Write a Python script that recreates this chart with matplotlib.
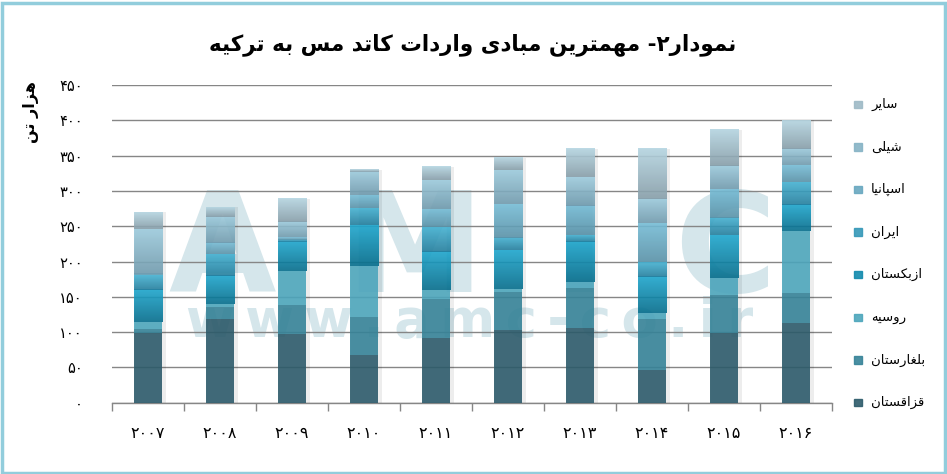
import numpy as np
import matplotlib
matplotlib.use('Agg')
import matplotlib.pyplot as plt
from matplotlib.colors import to_rgb
from matplotlib.patches import Rectangle

plt.rcParams['font.family'] = ['DejaVu Sans']

# ── data (thousand tonnes) ─────────────────────────────────────────────────
YEARS = ['۲۰۰۷', '۲۰۰۸', '۲۰۰۹', '۲۰۱۰', '۲۰۱۱', '۲۰۱۲', '۲۰۱۳', '۲۰۱۴', '۲۰۱۵', '۲۰۱۶']
SERIES_NAMES = ['قزاقستان', 'بلغارستان', 'روسیه', 'ازبکستان', 'ایران', 'اسپانیا', 'شیلی', 'سایر']
kazakhstan = [99, 119, 98, 68, 92, 103, 106, 47, 99, 113]
bulgaria   = [5, 17, 40, 54, 55, 54, 57, 71, 54, 42]
russia     = [10, 4, 48, 72, 13, 4, 8, 9, 24, 88]
uzbekistan = [46, 40, 42, 58, 54, 55, 57, 51, 60, 37]
iran       = [21, 30, 3, 24, 35, 17, 9, 21, 25, 32]
spain      = [2, 16, 3, 18, 25, 48, 42, 55, 40, 24]
chile      = [63, 37, 22, 33, 41, 48, 41, 34, 33, 24]
other      = [24, 14, 33, 3, 19, 18, 40, 72, 51, 41]
Y_TICKS = [0, 50, 100, 150, 200, 250, 300, 350, 400, 450]

TITLE = 'نمودار۲- مهمترین مبادی واردات کاتد مس به ترکیه'
Y_LABEL = 'هزار تن'

# (top colour, bottom colour) as seen on white — solid ones use the same twice
COLOURS = [
    ('#426b7a', '#426b7a'),
    ('#4a8fa2', '#4a8fa2'),
    ('#5fafc3', '#5fafc3'),
    ('#35b0d3', '#1e7c98'),
    ('#58bad7', '#3a8ba7'),
    ('#84c4db', '#6a9db1'),
    ('#a6d0e0', '#7fa5b6'),
    ('#bddae5', '#93a8b2'),
]
ALPHA = 0.9


def unblend(c, a=ALPHA):
    """Base colour that shows as `c` on white when drawn with alpha `a`."""
    return np.clip((np.array(to_rgb(c)) - (1 - a)) / a, 0, 1)


# ── minimal Persian shaping (matplotlib has no complex text layout) ─────────
FORMS = {
    'ا': ('\uFE8D', '\uFE8E', None, None),
    'ب': ('\uFE8F', '\uFE90', '\uFE91', '\uFE92'),
    'ت': ('\uFE95', '\uFE96', '\uFE97', '\uFE98'),
    'د': ('\uFEA9', '\uFEAA', None, None),
    'ر': ('\uFEAD', '\uFEAE', None, None),
    'ز': ('\uFEAF', '\uFEB0', None, None),
    'س': ('\uFEB1', '\uFEB2', '\uFEB3', '\uFEB4'),
    'ش': ('\uFEB5', '\uFEB6', '\uFEB7', '\uFEB8'),
    'غ': ('\uFECD', '\uFECE', '\uFECF', '\uFED0'),
    'ق': ('\uFED5', '\uFED6', '\uFED7', '\uFED8'),
    'ل': ('\uFEDD', '\uFEDE', '\uFEDF', '\uFEE0'),
    'م': ('\uFEE1', '\uFEE2', '\uFEE3', '\uFEE4'),
    'ن': ('\uFEE5', '\uFEE6', '\uFEE7', '\uFEE8'),
    'ه': ('\uFEE9', '\uFEEA', '\uFEEB', '\uFEEC'),
    'و': ('\uFEED', '\uFEEE', None, None),
    'پ': ('\uFB56', '\uFB57', '\uFB58', '\uFB59'),
    'ک': ('\uFB8E', '\uFB8F', '\uFB90', '\uFB91'),
    'ی': ('\uFBFC', '\uFBFD', '\uFBFE', '\uFBFF'),
}


def fa(text):
    """Pick contextual glyph forms, then reverse for left-to-right drawing."""
    out = []
    for i, ch in enumerate(text):
        if ch not in FORMS:
            out.append(ch)
            continue
        prev = text[i - 1] if i > 0 else ''
        nxt = text[i + 1] if i < len(text) - 1 else ''
        j_prev = prev in FORMS and FORMS[prev][2] is not None
        j_next = nxt in FORMS and FORMS[ch][2] is not None
        iso, fin, ini, med = FORMS[ch]
        if j_prev and j_next:
            out.append(med)
        elif j_prev:
            out.append(fin)
        elif j_next:
            out.append(ini)
        else:
            out.append(iso)
    return ''.join(reversed(out))


def fa_digits(n):
    return ''.join('۰۱۲۳۴۵۶۷۸۹'[int(d)] for d in str(n))


W, H = 947, 474
fig = plt.figure(figsize=(W / 100, H / 100), dpi=100)

# watermark, drawn before the axes
WM_COL = '#d5e6eb'
fig.text(473 / W, 1 - 292 / H, '\u2002'.join('AMIC'), ha='center', va='baseline',
         fontsize=100, fontweight='bold', color=WM_COL, zorder=-1)
fig.text(470 / W, 1 - 337 / H, '\u2009'.join('www.amc-co.ir'), ha='center', va='baseline',
         fontsize=38, fontweight='bold', color=WM_COL, zorder=-1)

ax = fig.add_axes([112 / W, 71.3 / H, 720 / W, 317.7 / H])
ax.patch.set_alpha(0)

data = [kazakhstan, bulgaria, russia, uzbekistan, iran, spain, chile, other]
x = np.arange(len(YEARS))
width = 0.40
bottom = np.zeros(len(YEARS))

# soft shadow behind the stacks
totals = np.sum(data, axis=0)
ax.bar(x + 0.035, totals + 1.5, width=width + 0.03, bottom=-1.5,
       color='black', alpha=0.07, zorder=2, linewidth=0)

for vals, (c_top, c_bot) in zip(data, COLOURS):
    bars = ax.bar(x, vals, width=width, bottom=bottom, color=unblend(c_bot),
                  alpha=ALPHA, linewidth=0, zorder=3)
    if c_top != c_bot:
        t = np.linspace(0, 1, 64)[:, None, None]
        img = unblend(c_top) * (1 - t) + unblend(c_bot) * t
        for p in bars:
            p.set_facecolor('none')
            ax.imshow(img, extent=(p.get_x(), p.get_x() + p.get_width(),
                                   p.get_y(), p.get_y() + p.get_height()),
                      origin='upper', aspect='auto', alpha=ALPHA,
                      interpolation='bilinear', zorder=3)
    bottom += np.array(vals)

ax.set_xlim(-0.5, len(YEARS) - 0.5)
ax.set_ylim(0, 450)
ax.set_yticks(Y_TICKS)
ax.set_yticklabels([fa_digits(v) for v in Y_TICKS], fontsize=10.5)
ax.yaxis.grid(True, color='#868686', lw=1.0, zorder=1)
ax.set_axisbelow(True)
ax.tick_params(axis='y', length=0, pad=21)

ax.set_xticks(x)
ax.set_xticklabels(YEARS, fontsize=11.5)
ax.set_xticks(np.arange(-0.5, len(YEARS)), minor=True)
ax.tick_params(axis='x', which='major', length=0, pad=17)
ax.tick_params(axis='x', which='minor', length=6, color='#868686', width=1.0)

for s in ['top', 'right', 'left']:
    ax.spines[s].set_visible(False)
ax.spines['bottom'].set_color('#868686')
ax.spines['bottom'].set_linewidth(1.0)

fig.text(0.499, 0.905, fa(TITLE), ha='center', va='center',
         fontsize=15.5, fontweight='bold')
fig.text(31 / W, 1 - 112 / H, fa(Y_LABEL), ha='center', va='center',
         rotation=90, fontsize=11.5, fontweight='bold')

# legend, top series first
for i, k in enumerate(range(len(SERIES_NAMES) - 1, -1, -1)):
    yc = 1 - (104.5 + i * 42.6) / H
    c_top, c_bot = COLOURS[k]
    mid = (unblend(c_top) + unblend(c_bot)) / 2
    fig.patches.append(Rectangle((854 / W, yc - 3.5 / H), 7.5 / W, 7.5 / H,
                                 transform=fig.transFigure, color=mid, alpha=ALPHA))
    fig.text(871 / W, yc, fa(SERIES_NAMES[k]), ha='left', va='center', fontsize=9.5)

# light blue frame round the chart
fig.patches.append(Rectangle((1.5 / W, 1.5 / H), 943 / W, 470 / H,
                             transform=fig.transFigure, fill=False,
                             edgecolor='#92cddc', lw=2.5))

fig.savefig('out.png', dpi=100)
